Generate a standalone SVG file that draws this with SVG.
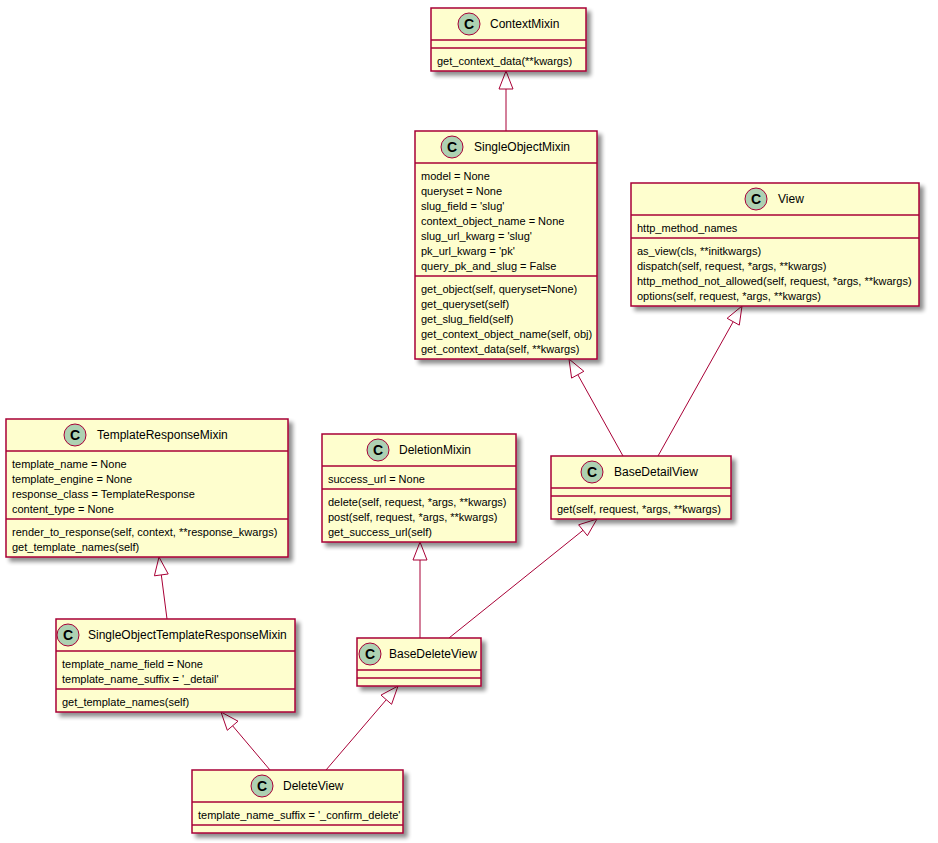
<svg xmlns="http://www.w3.org/2000/svg" width="938" height="843" viewBox="0 0 938 843">
<defs>
<filter id="sh" x="-10%" y="-10%" width="130%" height="130%">
<feGaussianBlur in="SourceAlpha" stdDeviation="2" result="b"/>
<feOffset in="b" dx="4" dy="4" result="o"/>
<feComponentTransfer in="o" result="o2"><feFuncA type="linear" slope="0.45"/></feComponentTransfer>
<feMerge><feMergeNode in="o2"/><feMergeNode in="SourceGraphic"/></feMerge>
</filter>
</defs>
<style>
.box{fill:#FEFECE;stroke:#A80036;stroke-width:1.5}
.sep{stroke:#A80036;stroke-width:1.5}
.circ{fill:#ADD1B2;stroke:#A80036;stroke-width:1}
.t{font-family:"Liberation Sans",Arial,sans-serif;font-size:11px;fill:#000}
.ti{font-family:"Liberation Sans",Arial,sans-serif;font-size:12px;fill:#000}
.c{font-family:"Liberation Sans",Arial,sans-serif;font-size:14px;font-weight:bold;fill:#000;text-anchor:middle}
.e{stroke:#A80036;stroke-width:1;fill:none}
.tri{stroke:#A80036;stroke-width:1;fill:#FFFFFF}
</style>
<rect width="938" height="843" fill="#FFFFFF"/>

<g id="connectors">
<line class="e" x1="506" y1="131" x2="506" y2="89"/>
<polygon class="tri" points="506,71 499,89 513,89"/>
<line class="e" x1="623" y1="456" x2="577.8" y2="374.7"/>
<polygon class="tri" points="569,359 571.6,378.1 583.9,371.3"/>
<line class="e" x1="658" y1="456" x2="733.2" y2="321.7"/>
<polygon class="tri" points="742,306 727.1,318.3 739.3,325.1"/>
<line class="e" x1="167" y1="619" x2="161.3" y2="574.9"/>
<polygon class="tri" points="159,557 154.4,575.8 168.2,574.0"/>
<line class="e" x1="420" y1="638" x2="420" y2="560"/>
<polygon class="tri" points="420,542 413,560 427,560"/>
<line class="e" x1="449" y1="638" x2="583" y2="530.3"/>
<polygon class="tri" points="597,519 578.6,524.8 587.4,535.7"/>
<line class="e" x1="270" y1="770" x2="232.6" y2="725.8"/>
<polygon class="tri" points="221,712 227.3,730.3 238.0,721.2"/>
<line class="e" x1="326" y1="770" x2="386.3" y2="699.7"/>
<polygon class="tri" points="398,686 381.0,695.1 391.6,704.3"/>
</g>

<g id="ContextMixin">
<rect class="box" x="431" y="8" width="155" height="63" filter="url(#sh)"/>
<line class="sep" x1="431" y1="40" x2="586" y2="40"/>
<line class="sep" x1="431" y1="48" x2="586" y2="48"/>
<circle class="circ" cx="469" cy="24" r="11"/>
<text class="c" x="469" y="29">C</text>
<text class="ti" x="490" y="28">ContextMixin</text>
<text class="t" x="437" y="65">get_context_data(**kwargs)</text>
</g>

<g id="SingleObjectMixin">
<rect class="box" x="415" y="131" width="182" height="228" filter="url(#sh)"/>
<line class="sep" x1="415" y1="163" x2="597" y2="163"/>
<line class="sep" x1="415" y1="276" x2="597" y2="276"/>
<circle class="circ" cx="452" cy="147" r="11"/>
<text class="c" x="452" y="152">C</text>
<text class="ti" x="474" y="151">SingleObjectMixin</text>
<text class="t" x="421" y="180">model = None</text>
<text class="t" x="421" y="195">queryset = None</text>
<text class="t" x="421" y="210">slug_field = 'slug'</text>
<text class="t" x="421" y="225">context_object_name = None</text>
<text class="t" x="421" y="240">slug_url_kwarg = 'slug'</text>
<text class="t" x="421" y="255">pk_url_kwarg = 'pk'</text>
<text class="t" x="421" y="270">query_pk_and_slug = False</text>
<text class="t" x="421" y="293">get_object(self, queryset=None)</text>
<text class="t" x="421" y="308">get_queryset(self)</text>
<text class="t" x="421" y="323">get_slug_field(self)</text>
<text class="t" x="421" y="338">get_context_object_name(self, obj)</text>
<text class="t" x="421" y="353">get_context_data(self, **kwargs)</text>
</g>

<g id="View">
<rect class="box" x="631" y="183" width="288" height="123" filter="url(#sh)"/>
<line class="sep" x1="631" y1="215" x2="919" y2="215"/>
<line class="sep" x1="631" y1="238" x2="919" y2="238"/>
<circle class="circ" cx="756" cy="199" r="11"/>
<text class="c" x="756" y="204">C</text>
<text class="ti" x="778" y="203">View</text>
<text class="t" x="637" y="232">http_method_names</text>
<text class="t" x="637" y="255">as_view(cls, **initkwargs)</text>
<text class="t" x="637" y="270">dispatch(self, request, *args, **kwargs)</text>
<text class="t" x="637" y="285">http_method_not_allowed(self, request, *args, **kwargs)</text>
<text class="t" x="637" y="300">options(self, request, *args, **kwargs)</text>
</g>

<g id="TemplateResponseMixin">
<rect class="box" x="6" y="419" width="282" height="138" filter="url(#sh)"/>
<line class="sep" x1="6" y1="451" x2="288" y2="451"/>
<line class="sep" x1="6" y1="519" x2="288" y2="519"/>
<circle class="circ" cx="75" cy="435" r="11"/>
<text class="c" x="75" y="440">C</text>
<text class="ti" x="97" y="439">TemplateResponseMixin</text>
<text class="t" x="12" y="468">template_name = None</text>
<text class="t" x="12" y="483">template_engine = None</text>
<text class="t" x="12" y="498">response_class = TemplateResponse</text>
<text class="t" x="12" y="513">content_type = None</text>
<text class="t" x="12" y="536">render_to_response(self, context, **response_kwargs)</text>
<text class="t" x="12" y="551">get_template_names(self)</text>
</g>

<g id="DeletionMixin">
<rect class="box" x="322" y="434" width="194" height="108" filter="url(#sh)"/>
<line class="sep" x1="322" y1="466" x2="516" y2="466"/>
<line class="sep" x1="322" y1="489" x2="516" y2="489"/>
<circle class="circ" cx="378" cy="450" r="11"/>
<text class="c" x="378" y="455">C</text>
<text class="ti" x="399" y="454">DeletionMixin</text>
<text class="t" x="328" y="483">success_url = None</text>
<text class="t" x="328" y="506">delete(self, request, *args, **kwargs)</text>
<text class="t" x="328" y="521">post(self, request, *args, **kwargs)</text>
<text class="t" x="328" y="536">get_success_url(self)</text>
</g>

<g id="BaseDetailView">
<rect class="box" x="551" y="456" width="180" height="63" filter="url(#sh)"/>
<line class="sep" x1="551" y1="488" x2="731" y2="488"/>
<line class="sep" x1="551" y1="496" x2="731" y2="496"/>
<circle class="circ" cx="592" cy="472" r="11"/>
<text class="c" x="592" y="477">C</text>
<text class="ti" x="614" y="476">BaseDetailView</text>
<text class="t" x="557" y="513">get(self, request, *args, **kwargs)</text>
</g>

<g id="SingleObjectTemplateResponseMixin">
<rect class="box" x="56" y="619" width="239" height="93" filter="url(#sh)"/>
<line class="sep" x1="56" y1="651" x2="295" y2="651"/>
<line class="sep" x1="56" y1="689" x2="295" y2="689"/>
<circle class="circ" cx="68" cy="635" r="11"/>
<text class="c" x="68" y="640">C</text>
<text class="ti" x="88" y="639">SingleObjectTemplateResponseMixin</text>
<text class="t" x="62" y="668">template_name_field = None</text>
<text class="t" x="62" y="683">template_name_suffix = '_detail'</text>
<text class="t" x="62" y="706">get_template_names(self)</text>
</g>

<g id="BaseDeleteView">
<rect class="box" x="357" y="638" width="124" height="48" filter="url(#sh)"/>
<line class="sep" x1="357" y1="670" x2="481" y2="670"/>
<line class="sep" x1="357" y1="678" x2="481" y2="678"/>
<circle class="circ" cx="370" cy="654" r="11"/>
<text class="c" x="370" y="659">C</text>
<text class="ti" x="389" y="658">BaseDeleteView</text>
</g>

<g id="DeleteView">
<rect class="box" x="192" y="770" width="211" height="63" filter="url(#sh)"/>
<line class="sep" x1="192" y1="802" x2="403" y2="802"/>
<line class="sep" x1="192" y1="825" x2="403" y2="825"/>
<circle class="circ" cx="262" cy="786" r="11"/>
<text class="c" x="262" y="791">C</text>
<text class="ti" x="283" y="790">DeleteView</text>
<text class="t" x="198" y="819">template_name_suffix = '_confirm_delete'</text>
</g>
</svg>
